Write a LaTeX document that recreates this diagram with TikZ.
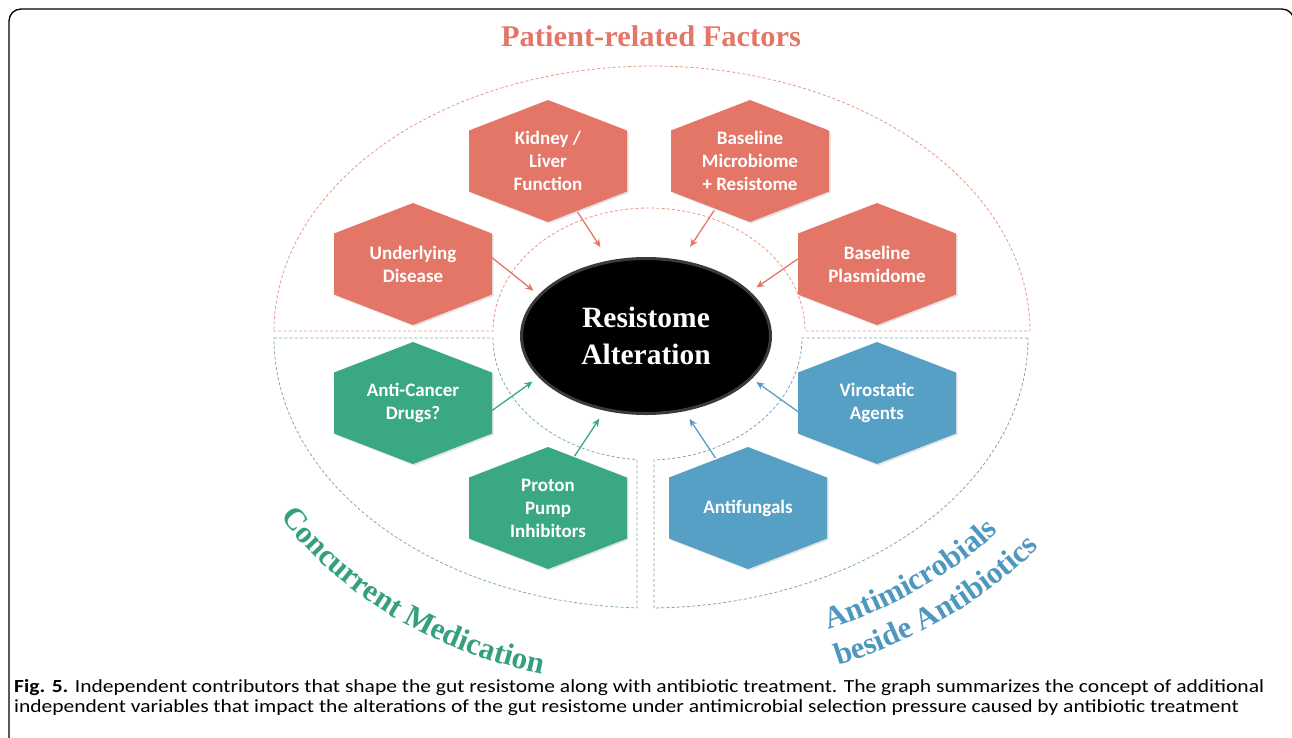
\documentclass[tikz,border=0pt]{standalone}
\usepackage{graphicx}
\usepackage{fontspec}
\setmainfont{Liberation Serif}
\newfontfamily\hexfont{Carlito}
\usetikzlibrary{shapes.geometric,arrows.meta,decorations.text,shadows}

\definecolor{salmon}{RGB}{228,118,104}
\definecolor{salmonline}{RGB}{232,150,136}
\definecolor{medgreen}{RGB}{58,168,128}
\definecolor{medtext}{RGB}{52,160,128}
\definecolor{medline}{RGB}{128,172,168}
\definecolor{amblue}{RGB}{86,160,198}
\definecolor{ambtext}{RGB}{78,152,192}
\definecolor{ambline}{RGB}{128,162,182}
\definecolor{rimgray}{RGB}{58,58,58}

\newcommand\arcfont{\fontsize{31}{31}\selectfont\bfseries}
\newcommand\capfont{\hexfont\fontsize{18.5}{21}\selectfont}
% pointy-top hexagon tile centred at (#1,#2), filled with colour #3
\newcommand\hextile[3]{%
  \fill[#3, drop shadow={opacity=0.22, shadow xshift=1.5pt, shadow yshift=-1.5pt}]
    (#1,#2) ++(0,-61) -- ++(79,30.5) -- ++(0,61) -- ++(-79,30.5) -- ++(-79,-30.5) -- ++(0,-61) -- cycle;}

% caption lines, set once so both share one horizontal scale
\newsavebox\caplineone
\newsavebox\caplinetwo
\sbox\caplineone{\capfont\textbf{Fig. 5.} Independent contributors that shape the gut resistome along with antibiotic treatment. The graph summarizes the concept of additional}
\sbox\caplinetwo{\capfont independent variables that impact the alterations of the gut resistome under antimicrobial selection pressure caused by antibiotic treatment}

\begin{document}
\begin{tikzpicture}[x=1pt,y=-1pt,
  hexlabel/.style={ellipse, minimum width=158pt, minimum height=108pt, inner sep=0pt, outer sep=0pt,
    text=white, align=center, font=\hexfont\bfseries\fontsize{19}{23}\selectfont},
  zone/.style={line width=0.8pt, dash pattern=on 3pt off 2.2pt},
  feed/.style={-{Stealth[length=8pt,width=7pt]}, line width=1.3pt, shorten <=1pt},
]
\useasboundingbox (0,0) rectangle (1292,737);
\clip (0,0) rectangle (1292,737);

% outer frame
\draw[line width=1.3pt, rounded corners=12pt] (9,760) -- (9,9) -- (1294,9) -- (1294,760);

% title
\node[anchor=base, inner sep=0pt, text=salmon] (ttl) at (651,46)
  {\resizebox{300pt}{\height}{\fontsize{30}{30}\selectfont\bfseries Patient-related Factors}};

% zones
\draw[zone, draw=salmonline] (273,331) -- (493,331)
  -- plot[domain=0:180, samples=90, variable=\t] ({649+156*cos(180-\t)}, {331-123*sin(180-\t)})
  -- (1030,331)
  -- plot[domain=0:180, samples=140, variable=\t] ({652+378*cos(\t)}, {331-265*sin(\t)})
  -- cycle;
\draw[zone, draw=medline] (274,338) -- (493,338)
  -- plot[domain=0:85.25, samples=50, variable=\t] ({650+157*cos(180-\t)}, {338+122*sin(180-\t)})
  -- (637,607.8)
  -- plot[domain=0:88.02, samples=80, variable=\t] ({650+376*cos(91.98+\t)}, {338+270*sin(91.98+\t)})
  -- cycle;
\draw[zone, draw=ambline] (1028,338) -- (802,338)
  -- plot[domain=0:87.77, samples=50, variable=\t] ({648+154*cos(\t)}, {338+122*sin(\t)})
  -- (654,608)
  -- plot[domain=0:89.1, samples=80, variable=\t] ({648+380*cos(89.1-\t)}, {338+270*sin(89.1-\t)})
  -- cycle;

% central node
\node[ellipse, fill=black, draw=rimgray, line width=3pt, minimum width=249pt, minimum height=155pt,
  text=white, align=center, font=\fontsize{29.5}{37}\selectfont\bfseries] (res) at (646,336)
  {Resistome\\Alteration};

% factor tiles
\hextile{548}{161}{salmon}
\hextile{750}{161}{salmon}
\hextile{413}{264}{salmon}
\hextile{877}{264}{salmon}
\hextile{413}{403}{medgreen}
\hextile{548}{508}{medgreen}
\hextile{877}{403}{amblue}
\hextile{748}{508}{amblue}

% factor labels
\node[hexlabel] (kid) at (548,161) {Kidney /\\Liver\\Function};
\node[hexlabel] (mic) at (750,161) {Baseline\\Microbiome\\+ Resistome};
\node[hexlabel] (und) at (413,264) {Underlying\\Disease};
\node[hexlabel] (pla) at (877,264) {Baseline\\Plasmidome};
\node[hexlabel] (anc) at (413,403) {Anti-Cancer\\Drugs?};
\node[hexlabel] (ppi) at (548,508) {Proton\\Pump\\Inhibitors};
\node[hexlabel] (vir) at (877,403) {Virostatic\\Agents};
\node[hexlabel] (afu) at (748,508) {Antifungals};

% influences
\draw[feed, salmon, shorten >=16pt] (kid.300) -- (res.116);
\draw[feed, salmon, shorten >=16pt] (mic.234) -- (res.65);
\draw[feed, salmon, shorten >=6.5pt] (und.5) -- (res.159);
\draw[feed, salmon, shorten >=7.3pt] (pla.176) -- (res.23);
\draw[feed, medgreen, shorten >=7.5pt] (anc.354) -- (res.201);
\draw[feed, medgreen, shorten >=9.6pt] (ppi.63) -- (res.241);
\draw[feed, amblue, shorten >=9.2pt] (afu.123) -- (res.297);
\draw[feed, amblue, shorten >=5.5pt] (vir.187) -- (res.338);

% group labels along arcs
\path[decorate, decoration={text along path, text align=center,
    text={|\arcfont\color{medtext}|Concurrent Medication}}]
  plot[domain=0:71, samples=90, variable=\t] ({645+426*cos(163-\t)}, {338+346*sin(163-\t)});
\path[decorate, decoration={text along path, text align=center,
    text={|\arcfont\color{ambtext}|Antimicrobials}}]
  plot[domain=0:56, samples=80, variable=\t] ({645+444*cos(78-\t)}, {338+320*sin(78-\t)});
\path[decorate, decoration={text along path, text align=center,
    text={|\arcfont\color{ambtext}|beside Antibiotics}}]
  plot[domain=0:56, samples=80, variable=\t] ({645+486*cos(78-\t)}, {338+357*sin(78-\t)});

% caption
\pgfmathsetmacro\capscale{1250/\wd\caplineone}
\node[anchor=base west, inner sep=0pt] (cap1) at (14,692)
  {\scalebox{\capscale}[1]{\usebox\caplineone}};
\node[anchor=base west, inner sep=0pt] (cap2) at (14,712)
  {\scalebox{\capscale}[1]{\usebox\caplinetwo}};
\end{tikzpicture}
\end{document}
